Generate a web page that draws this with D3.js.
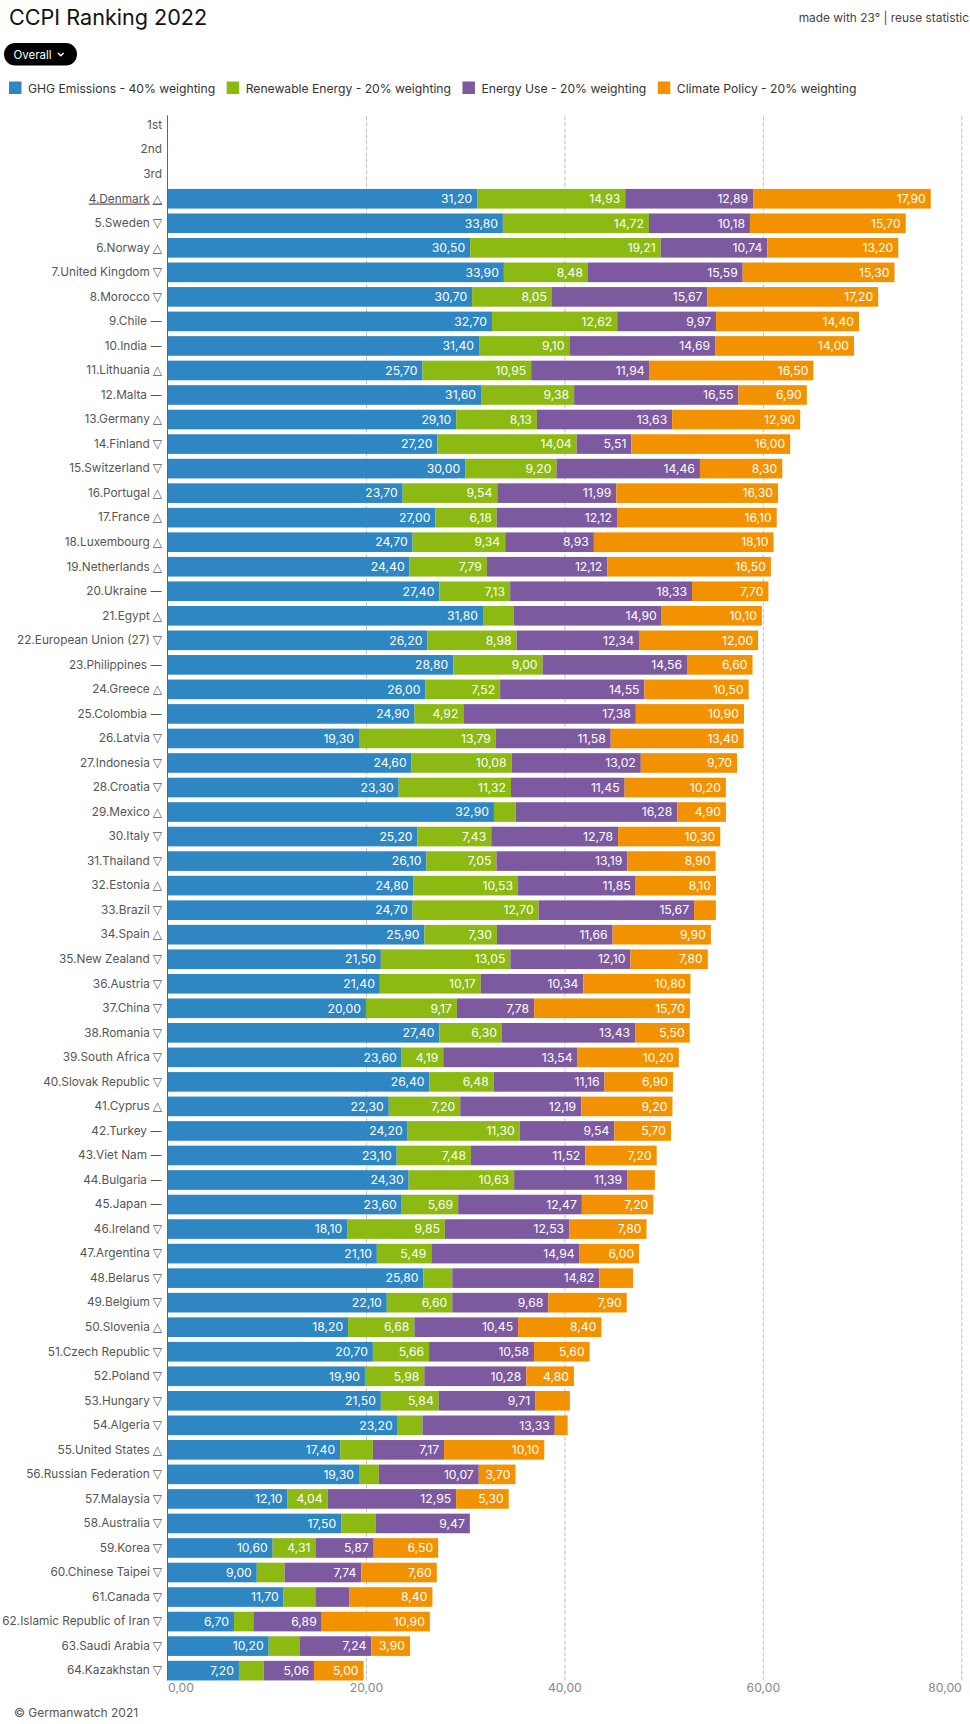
<!DOCTYPE html>
<html>
<head>
<meta charset="utf-8">
<script src="https://cdnjs.cloudflare.com/ajax/libs/d3/7.8.5/d3.min.js"></script>
<style>
  html, body { margin: 0; background: #fff; }
  svg { display: block; font-family: Inter, "Noto Sans", sans-serif; }
</style>
</head>
<body>
<div id="chartdiv"></div>
<script>
/* --- Data --- */
let podium = ["1st", "2nd", "3rd"]
let countries = ["Denmark","Sweden","Norway","United Kingdom","Morocco","Chile","India","Lithuania","Malta","Germany","Finland","Switzerland","Portugal","France","Luxembourg","Netherlands","Ukraine","Egypt","European Union (27)","Philippines","Greece","Colombia","Latvia","Indonesia","Croatia","Mexico","Italy","Thailand","Estonia","Brazil","Spain","New Zealand","Austria","China","Romania","South Africa","Slovak Republic","Cyprus","Turkey","Viet Nam","Bulgaria","Japan","Ireland","Argentina","Belarus","Belgium","Slovenia","Czech Republic","Poland","Hungary","Algeria","United States","Russian Federation","Malaysia","Australia","Korea","Chinese Taipei","Canada","Islamic Republic of Iran","Saudi Arabia","Kazakhstan"]
let trends = ["△","▽","△","▽","▽","—","—","△","—","△","▽","▽","△","△","△","△","—","△","▽","—","△","—","▽","▽","▽","△","▽","▽","△","▽","△","▽","▽","▽","▽","▽","▽","△","—","—","—","—","▽","▽","▽","▽","△","▽","▽","▽","▽","△","▽","▽","▽","▽","▽","▽","▽","▽","▽"]
let ghg = [31.2,33.8,30.5,33.9,30.7,32.7,31.4,25.7,31.6,29.1,27.2,30,23.7,27,24.7,24.4,27.4,31.8,26.2,28.8,26,24.9,19.3,24.6,23.3,32.9,25.2,26.1,24.8,24.7,25.9,21.5,21.4,20,27.4,23.6,26.4,22.3,24.2,23.1,24.3,23.6,18.1,21.1,25.8,22.1,18.2,20.7,19.9,21.5,23.2,17.4,19.3,12.1,17.5,10.6,9,11.7,6.7,10.2,7.2]
let renewable = [14.93,14.72,19.21,8.48,8.05,12.62,9.1,10.95,9.38,8.13,14.04,9.2,9.54,6.18,9.34,7.79,7.13,3.1,8.98,9,7.52,4.92,13.79,10.08,11.32,2.2,7.43,7.05,10.53,12.7,7.3,13.05,10.17,9.17,6.3,4.19,6.48,7.2,11.3,7.48,10.63,5.69,9.85,5.49,2.9,6.6,6.68,5.66,5.98,5.84,2.5,3.3,2,4.04,3.5,4.31,2.8,3.2,1.95,3.1,2.5]
let energy = [12.89,10.18,10.74,15.59,15.67,9.97,14.69,11.94,16.55,13.63,5.51,14.46,11.99,12.12,8.93,12.12,18.33,14.9,12.34,14.56,14.55,17.38,11.58,13.02,11.45,16.28,12.78,13.19,11.85,15.67,11.66,12.1,10.34,7.78,13.43,13.54,11.16,12.19,9.54,11.52,11.39,12.47,12.53,14.94,14.82,9.68,10.45,10.58,10.28,9.71,13.33,7.17,10.07,12.95,9.47,5.87,7.74,3.4,6.89,7.24,5.06]
let policy = [17.9,15.7,13.2,15.3,17.2,14.4,14,16.5,6.9,12.9,16,8.3,16.3,16.1,18.1,16.5,7.7,10.1,12,6.6,10.5,10.9,13.4,9.7,10.2,4.9,10.3,8.9,8.1,2.2,9.9,7.8,10.8,15.7,5.5,10.2,6.9,9.2,5.7,7.2,2.8,7.2,7.8,6,3.4,7.9,8.4,5.6,4.8,3.5,1.3,10.1,3.7,5.3,0,6.5,7.6,8.4,10.9,3.9,5]
let seriesNames = ["GHG Emissions - 40% weighting","Renewable Energy - 20% weighting","Energy Use - 20% weighting","Climate Policy - 20% weighting"]
let seriesColors = ["#2e86c3","#8cba13","#7d5aa0","#f39200"]
let xTicks = [0, 20, 40, 60, 80]
/* -------------------- */

let width = 970
let height = 1724
let leftMargin = 167.5
let rightMargin = 8.7
let minLabelValue = 3.6   // the original hides labels on thin segments

let fmt = d3.formatLocale({decimal: ",", thousands: ".", grouping: [3], currency: ["", ""]}).format(".2f")

let rowLabels = podium.concat(countries.map((c, i) => `${i + 4}.${c} ${trends[i]}`))
let rows = countries.map((c, i) => ({
   label: rowLabels[i + 3],
   s0: ghg[i], s1: renewable[i], s2: energy[i], s3: policy[i]
}))

function drawChart(){
   let svg = d3.select('#chartdiv')
      .append('svg')
      .attr("width", width)
      .attr("height", height)

   // Header
   svg.append("text").attr("x", 9).attr("y", 25)
      .attr("font-size", 21.6).attr("fill", "#111")
      .text("CCPI Ranking 2022")
   svg.append("text").attr("x", 969).attr("y", 22)
      .attr("text-anchor", "end").attr("font-size", 11.9).attr("fill", "#444")
      .text("made with 23° | reuse statistic")

   // Dropdown pill
   svg.append("rect").attr("x", 4).attr("y", 43).attr("width", 73).attr("height", 22.5)
      .attr("rx", 11.2).attr("fill", "#000")
   svg.append("text").attr("x", 13.5).attr("y", 58.5)
      .attr("font-size", 11.5).attr("fill", "#fff").text("Overall")
   svg.append("path").attr("d", "M58 53 l2.8 2.8 l2.8 -2.8")
      .attr("fill", "none").attr("stroke", "#fff").attr("stroke-width", 1.5)

   // Legend, laid out from the measured text widths
   let legendX = 9
   seriesNames.forEach((name, i) => {
      svg.append("rect").attr("x", legendX).attr("y", 81.5).attr("width", 12.5).attr("height", 12.5)
         .attr("fill", seriesColors[i])
      let t = svg.append("text").attr("x", legendX + 19).attr("y", 92.5)
         .attr("font-size", 12.15).attr("fill", "#333").text(name)
      legendX += 19 + t.node().getComputedTextLength() + 11.5
   })

   // X scale and grid
   let xscale = d3.scaleLinear()
      .domain([0, 80])
      .range([leftMargin, width - rightMargin])
   // Y scale
   let yscale = d3.scaleBand()
      .domain(rowLabels)
      .range([112.9, 1682.9])
      .paddingInner(0.2)
      .paddingOuter(0.1)
   let plotTop = yscale(rowLabels[0])
   let plotBottom = yscale(rowLabels[rowLabels.length - 1]) + yscale.bandwidth()

   let grid = svg.append("g")
      .attr("transform", `translate(0, ${plotBottom})`)
      .call(d3.axisBottom(xscale).tickValues(xTicks.slice(1)).tickSize(-(plotBottom - plotTop)).tickFormat(""))
   grid.select(".domain").remove()
   grid.selectAll("line").attr("stroke", "#bdbdbd").attr("stroke-dasharray", "4 2")

   // Stacked bars
   let stack = d3.stack().keys(["s0", "s1", "s2", "s3"])
   stack(rows).forEach((layer, k) => {
      let g = svg.append("g").attr("fill", seriesColors[k])
      g.selectAll("rect")
         .data(layer)
         .join("rect")
         .attr("x", d => xscale(d[0]))
         .attr("y", d => yscale(d.data.label))
         .attr("width", d => xscale(d[1]) - xscale(d[0]))
         .attr("height", yscale.bandwidth())
      g.selectAll("text")
         .data(layer.filter(d => d[1] - d[0] >= minLabelValue))
         .join("text")
         .attr("x", d => xscale(d[1]) - 5)
         .attr("y", d => yscale(d.data.label) + yscale.bandwidth() / 2)
         .attr("dy", "0.35em")
         .attr("text-anchor", "end")
         .attr("font-size", 12.2)
         .attr("fill", "#fff")
         .text(d => fmt(d[1] - d[0]))
   })

   // Y axis: the trend mark is a separate glyph after the name
   let y_axis = svg.append("g")
      .attr("transform", `translate(${leftMargin}, 0)`)
      .call(d3.axisLeft(yscale).tickSize(0).tickPadding(5.5))
   y_axis.select(".domain").remove()
   y_axis.selectAll("text")
      .attr("font-family", "Inter, 'DejaVu Sans', sans-serif")
      .attr("font-size", 11.8)
      .attr("fill", "#555")
      .attr("text-decoration", d => d.startsWith("4.") ? "underline" : null)
      .each(function(d){
         let cut = d.lastIndexOf(" ")
         if (cut < 0) return
         let el = d3.select(this).text(d.slice(0, cut))
         el.append("tspan")
            .attr("dx", 3)
            .attr("font-family", "'DejaVu Sans', sans-serif")
            .attr("font-size", 12)
            .text(d.slice(cut + 1))
      })
   svg.append("line")
      .attr("x1", leftMargin).attr("x2", leftMargin)
      .attr("y1", plotTop).attr("y2", plotBottom)
      .attr("stroke", "#666")

   // X axis labels
   let x_axis = svg.append("g")
      .attr("transform", `translate(0, ${plotBottom})`)
      .call(d3.axisBottom(xscale).tickValues(xTicks).tickSize(0).tickPadding(3).tickFormat(fmt))
   x_axis.select(".domain").remove()
   x_axis.selectAll("text")
      .attr("font-family", "Inter, sans-serif")
      .attr("font-size", 12.2)
      .attr("fill", "#888")
      .attr("text-anchor", d => d === 0 ? "start" : d === 80 ? "end" : "middle")

   // Footer
   svg.append("text").attr("x", 14).attr("y", 1717)
      .attr("font-size", 12).attr("fill", "#555")
      .text("© Germanwatch 2021")
}
drawChart()
</script>
</body>
</html>
